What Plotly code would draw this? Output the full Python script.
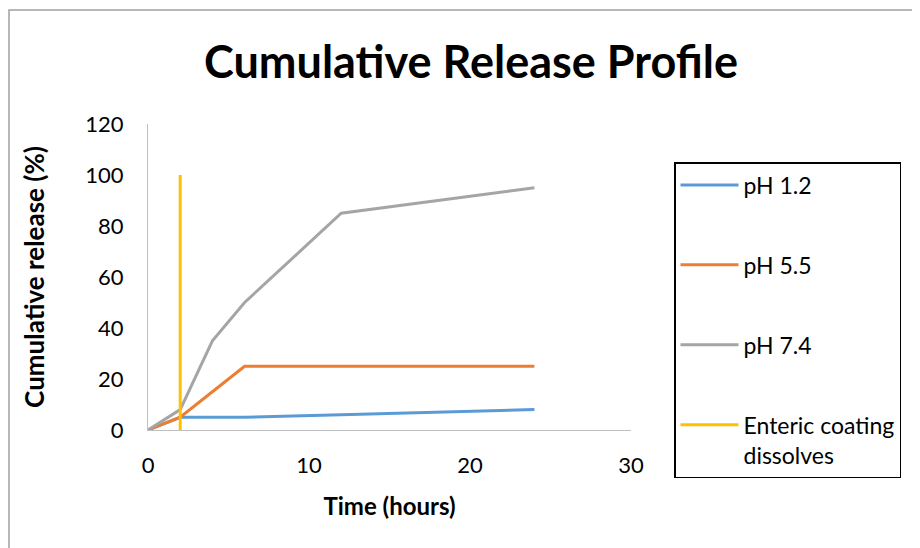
import plotly.graph_objects as go

time_h = [0, 2, 4, 6, 12, 24]
ph12 = [0, 5, 5, 5, 6, 8]
ph55 = [0, 5, 15, 25, 25, 25]
ph74 = [0, 8, 35, 50, 85, 95]
coat_x = [2, 2]
coat_y = [0, 100]

series = [
    ("pH 1.2", time_h, ph12, "#5B9BD5"),
    ("pH 5.5", time_h, ph55, "#ED7D31"),
    ("pH 7.4", time_h, ph74, "#A5A5A5"),
    ("Enteric coating<br>dissolves", coat_x, coat_y, "#FFC000"),
]

FONT = "Lato"
fig = go.Figure()
for i, (name, xs, ys, col) in enumerate(series):
    fig.add_trace(go.Scatter(x=xs, y=ys, mode="lines", name=name,
                             legendgroup=f"g{i}",
                             line=dict(color=col, width=3)))

# page body has an 8px margin; figure is 912x540 so it fills the 920x548 window
W, H = 912, 540
OFF = 8
L, T = 148 - OFF, 124 - OFF
R = W - (631 - OFF)
B = H - (430 - OFF)
pw = W - L - R
ph = H - T - B

fig.update_layout(
    width=W, height=H,
    margin=dict(l=L, r=R, t=T, b=B, autoexpand=False),
    paper_bgcolor="white", plot_bgcolor="white",
    font=dict(family=FONT, color="black"),
    title=dict(text="<b>Cumulative Release Profile</b>", x=(471 - OFF) / W, xref="container",
               xanchor="center", y=1 - (62 - OFF) / H, yref="container", yanchor="middle",
               font=dict(size=45, family=FONT, color="black")),
    xaxis=dict(range=[0, 30], dtick=10, showgrid=False, zeroline=False,
               showline=True, linecolor="#BFBFBF", linewidth=1,
               ticks="", tickfont=dict(size=22), automargin=False,
               ticklabelstandoff=16,
               title=dict(text="<b>Time (hours)</b>", font=dict(size=24), standoff=20)),
    yaxis=dict(range=[0, 120], dtick=20, showgrid=False, zeroline=False,
               showline=True, linecolor="#BFBFBF", linewidth=1,
               ticks="", tickfont=dict(size=22), automargin=False,
               ticklabelstandoff=19,
               title=dict(text="<b>Cumulative release (%)</b>", font=dict(size=26), standoff=33)),
    legend=dict(x=(674 - 148) / pw, y=(430 - 162) / ph, xanchor="left", yanchor="top",
                bordercolor="black", borderwidth=1.5, bgcolor="white",
                font=dict(size=23, family=FONT), tracegroupgap=47,
                itemwidth=58, valign="top", maxheight=420),
    showlegend=True,
)

fig.add_shape(type="rect", xref="paper", yref="paper",
              x0=(1 - L) / pw, x1=(W + 5 - L) / pw,
              y0=(H - B - H - 10) / ph, y1=(H - B - 2) / ph,
              line=dict(color="#A0A0A0", width=1.5), fillcolor="rgba(0,0,0,0)",
              layer="below")

fig.write_html("out.html")
